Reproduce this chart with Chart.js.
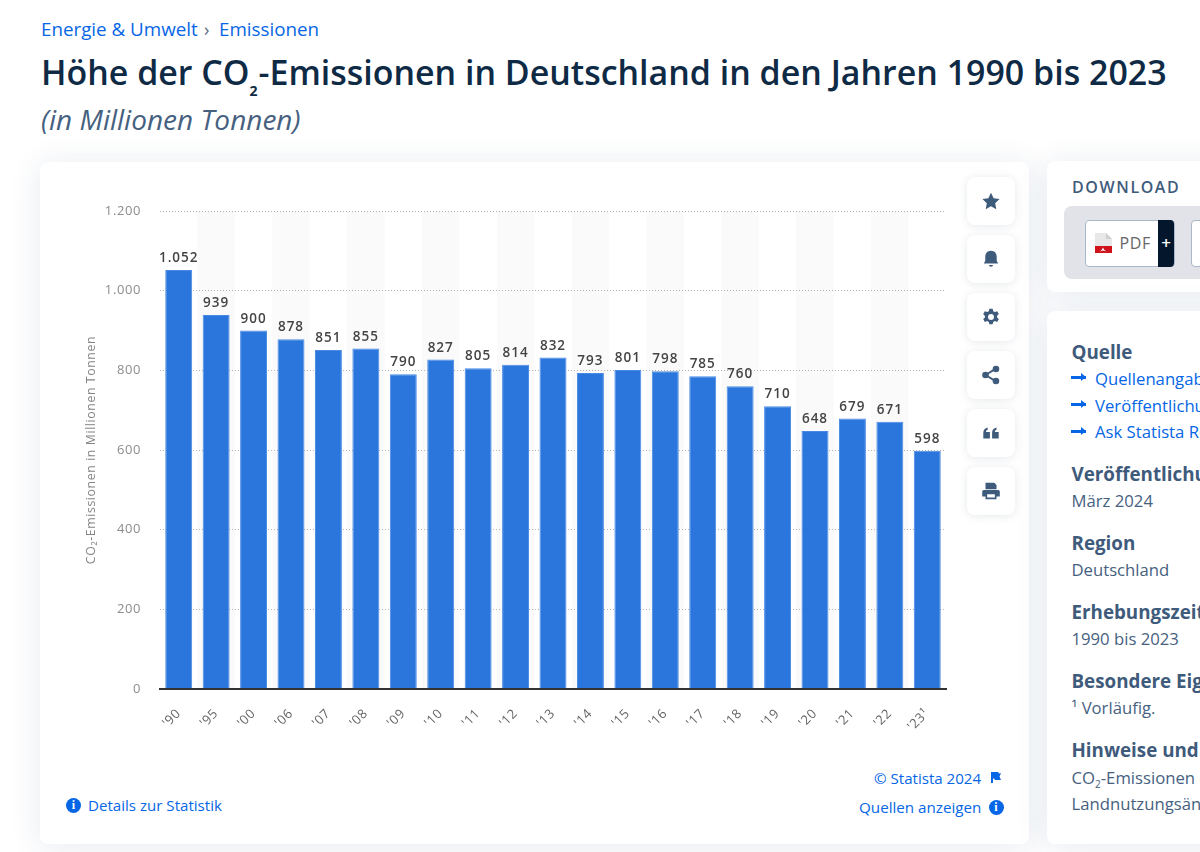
<!DOCTYPE html>
<html lang="de">
<head>
<meta charset="utf-8">
<title>CO2-Emissionen in Deutschland</title>
<script src="https://cdn.jsdelivr.net/npm/chart.js@4"></script>
<style>
html, body { margin: 0; padding: 0; }
body { width: 1200px; height: 852px; position: relative; overflow: hidden; font-family: "Open Sans", sans-serif; background: #fff; }
div, a, span { position: absolute; white-space: nowrap; }
sub { font-size: 60%; line-height: 0; }
sub.big { font-size: 14px; font-weight: 700; vertical-align: -11px; margin: 0 1px 0 0; }
.blue { color: #0666e5; }
.card { background: #fff; border-radius: 8px; box-shadow: 0 3px 32px rgba(30, 60, 110, .11); }
.btn { left: 967px; width: 48px; height: 48px; background: #fff; border-radius: 8px; box-shadow: 0 1px 8px rgba(60, 80, 110, .13); }
.btn svg { position: absolute; left: 13px; top: 13px; width: 22px; height: 22px; fill: #3f5b7c; }
.h { left: 1071.500px; font-size: 18.800px; font-weight: 700; color: #3f5b7c; line-height: 24px; }
.t { left: 1071.500px; font-size: 16.700px; color: #466180; line-height: 22px; }
.l { left: 1095px; font-size: 16.700px; color: #0666e5; line-height: 22px; }
.ar { left: 1071px; width: 15px; height: 3px; background: #0666e5; }
.ar::after { content: ""; position: absolute; right: 0; top: -3px; border-left: 5px solid #0666e5; border-top: 4.500px solid transparent; border-bottom: 4.500px solid transparent; }
.info { width: 15px; height: 15px; border-radius: 50%; background: #0666e5; color: #fff; font: 700 12px/15px "Liberation Serif", serif; text-align: center; }
</style>
</head>
<body>
<div class="blue" style="left:41px;top:17px;font-size:18.800px;line-height:25px">Energie &amp; Umwelt</div>
<div style="left:204px;top:17px;font-size:18px;line-height:25px;color:#5a6f88">›</div>
<div class="blue" style="left:219px;top:17px;font-size:18.800px;line-height:25px">Emissionen</div>
<div style="left:41px;top:50px;font-size:33.950px;font-weight:600;line-height:45px;color:#0f2a45">Höhe der CO<sub class="big">2</sub>-Emissionen in Deutschland in den Jahren 1990 bis 2023</div>
<div style="left:41px;top:102px;font-size:28px;font-style:italic;line-height:35px;color:#466180">(in Millionen Tonnen)</div>

<div class="card" style="left:40px;top:162px;width:989px;height:682px"></div>
<div class="card" style="left:1047px;top:161px;width:200px;height:131px"></div>
<div class="card" style="left:1047px;top:311px;width:200px;height:533px"></div>

<div style="left:40px;top:190px;width:920px;height:570px"><canvas id="chart1"></canvas></div>

<div class="btn" style="top:177px"><svg viewBox="0 0 20 20"><path d="M10 2.500l2.400 5 5.400.7-4 3.800 1 5.400-4.800-2.700-4.800 2.700 1-5.400-4-3.800 5.400-.7z"/></svg></div>
<div class="btn" style="top:235px"><svg viewBox="0 0 20 20"><path d="M10 2.500c3.400 0 5.200 2.600 5.200 5.500v3.500l1.300 2.500h-13l1.300-2.500V8c0-2.900 1.800-5.500 5.200-5.500zM8.200 15.500h3.600c0 1-.8 1.500-1.800 1.500s-1.800-.5-1.800-1.500z"/></svg></div>
<div class="btn" style="top:293px"><svg viewBox="0 0 20 20"><path fill-rule="evenodd" d="M8.500 2.500h3l.5 2.200 1.500.8 2.100-.8 1.500 2.600-1.600 1.500v1.600l1.600 1.500-1.500 2.600-2.100-.8-1.500.8-.5 2.200h-3l-.5-2.200-1.500-.8-2.100.8-1.500-2.600 1.600-1.500V9.200L2.900 7.300l1.500-2.600 2.100.8 1.500-.8zM10 7.300a2.700 2.700 0 1 0 0 5.400 2.700 2.700 0 0 0 0-5.400z"/></svg></div>
<div class="btn" style="top:351px"><svg viewBox="0 0 20 20"><circle cx="5" cy="10" r="3"/><circle cx="14.500" cy="4.500" r="3"/><circle cx="14.500" cy="15.500" r="3"/><path d="M5 9l9-5.500.9 1.500-9 5.500zM5.900 9.500l9 5.500-.9 1.500-9-5.500z"/></svg></div>
<div class="btn" style="top:409px"><svg viewBox="0 0 20 20"><path d="M3 10c0-3 1.500-4.500 4-5v2c-1 .3-1.500 1-1.500 2H9v6H3zM11 10c0-3 1.500-4.500 4-5v2c-1 .3-1.500 1-1.500 2H17v6h-6z"/></svg></div>
<div class="btn" style="top:467px"><svg viewBox="0 0 20 20"><path fill-rule="evenodd" d="M5 2.500h8l2 2v4H5zM3.500 9h13A1.500 1.500 0 0 1 18 10.500V15h-3v2.500H5V15H2v-4.500A1.500 1.500 0 0 1 3.500 9zM6.500 13v3h7v-3z"/></svg></div>

<div style="left:1072px;top:176px;font-size:16px;font-weight:600;letter-spacing:1.600px;line-height:22px;color:#3f5b7c">DOWNLOAD</div>
<div style="left:1064px;top:206px;width:200px;height:73px;background:#e1e3e8;border-radius:8px"></div>
<div style="left:1085px;top:220px;width:88px;height:45px;background:#fff;border:1px solid #a9b8c9;border-radius:4px"></div>
<div style="left:1158px;top:220px;width:16px;height:47px;background:#03162b;border-radius:0 4px 4px 0;color:#fff;font-size:17px;font-weight:600;line-height:45px;text-align:center">+</div>
<svg style="position:absolute;left:1095px;top:233px;width:17px;height:20px" viewBox="0 0 17 20"><path fill="#e8e8e8" d="M0 0h11l6 6v7H0z"/><path fill="#cfcfcf" d="M11 0l6 6h-6z"/><path fill="#d0121b" d="M0 13h17v7H0z"/><path fill="#fff" d="M8 14.500l1 2 2 2-3-1-3 1 2-2z"/></svg>
<div style="left:1119.500px;top:232px;font-size:16px;line-height:22px;letter-spacing:.6px;color:#666">PDF</div>
<div style="left:1191px;top:220px;width:40px;height:45px;background:#fff;border:1px solid #a9b8c9;border-radius:4px"></div>

<div class="h" style="top:340px">Quelle</div>
<div class="ar" style="top:376px"></div><div class="l" style="top:368px">Quellenangabe anzeigen</div>
<div class="ar" style="top:403px"></div><div class="l" style="top:395px">Veröffentlichung anzeigen</div>
<div class="ar" style="top:430px"></div><div class="l" style="top:421px">Ask Statista Research</div>
<div class="h" style="top:462px">Veröffentlichung</div>
<div class="t" style="top:490px">März 2024</div>
<div class="h" style="top:531px">Region</div>
<div class="t" style="top:559px">Deutschland</div>
<div class="h" style="top:600px">Erhebungszeitraum</div>
<div class="t" style="top:628px">1990 bis 2023</div>
<div class="h" style="top:669px">Besondere Eigenschaften</div>
<div class="t" style="top:697px">¹ Vorläufig.</div>
<div class="h" style="top:738px">Hinweise und Anmerkungen</div>
<div class="t" style="top:767px">CO<sub>2</sub>-Emissionen ohne</div>
<div class="t" style="top:793px">Landnutzungsänderungen</div>

<div class="info" style="left:66px;top:798px">i</div>
<div class="blue" style="left:88px;top:794px;font-size:15.100px;line-height:22px">Details zur Statistik</div>
<div class="blue" style="left:874px;top:767px;font-size:15.100px;line-height:22px">© Statista 2024</div>
<svg style="position:absolute;left:990px;top:771px;width:12px;height:13px" viewBox="0 0 12 13"><path fill="#0666e5" d="M1 1h7l1 1.500L11 2l-1.500 3.500L11 9H5L4 7.500H3V12H1z"/></svg>
<div class="blue" style="left:859px;top:796px;font-size:15.200px;line-height:22px">Quellen anzeigen</div>
<div class="info" style="left:988.500px;top:800px">i</div>

<script>
const years = ["'90", "'95", "'00", "'06", "'07", "'08", "'09", "'10", "'11", "'12", "'13", "'14", "'15", "'16", "'17", "'18", "'19", "'20", "'21", "'22", "'23¹"];
const emissions = [1052, 939, 900, 878, 851, 855, 790, 827, 805, 814, 832, 793, 801, 798, 785, 760, 710, 648, 679, 671, 598];
const yAxisTitle = 'CO₂-Emissionen in Millionen Tonnen';

// grey stripes behind every second year, has to run before the grid is drawn
const bandPlugin = {
  id: 'bands',
  beforeDraw(chart) {
    const ctx = chart.ctx, x = chart.scales.x, area = chart.chartArea;
    const slot = area.width / years.length;
    ctx.save();
    ctx.fillStyle = '#fafafa';
    for (let i = 1; i < years.length; i += 2) {
      ctx.fillRect(x.getPixelForValue(i) - slot / 2, area.top, slot, area.bottom - area.top);
    }
    ctx.restore();
    // the axis texts are letterspaced in the original
    ctx.letterSpacing = '0.6px';
  }
};

// value labels above the bars
const valuePlugin = {
  id: 'values',
  afterDatasetsDraw(chart) {
    const ctx = chart.ctx, bars = chart.getDatasetMeta(0).data;
    ctx.save();
    ctx.font = '600 13.500px "Open Sans"';
    ctx.letterSpacing = '1px';
    ctx.fillStyle = '#444';
    ctx.textAlign = 'center';
    ctx.textBaseline = 'bottom';
    for (let i = 0; i < bars.length; i++) {
      ctx.fillText(emissions[i].toLocaleString('de-DE'), bars[i].x, bars[i].y - 5);
    }
    ctx.restore();
  }
};

new Chart(document.getElementById('chart1').getContext('2d'), {
  type: 'bar',
  data: {
    labels: years,
    datasets: [{
      data: emissions,
      backgroundColor: '#2a76dd',
      borderColor: '#4a8ae4',
      borderWidth: 1,
      barPercentage: 0.72,
      categoryPercentage: 1
    }]
  },
  plugins: [bandPlugin, valuePlugin],
  options: {
    responsive: true,
    maintainAspectRatio: false,
    animation: false,
    layout: { padding: { left: 40, right: 14, top: 21, bottom: 0 } },
    plugins: { legend: { display: false }, tooltip: { enabled: false } },
    scales: {
      x: {
        afterFit(scale) { scale.height = 71; },
        grid: { display: false, drawTicks: false },
        border: { color: '#333', width: 2, z: 1 },
        ticks: {
          color: '#666',
          padding: 17,
          minRotation: 45,
          maxRotation: 45,
          autoSkip: false,
          font: { family: 'Open Sans', size: 13 }
        }
      },
      y: {
        min: 0,
        max: 1200,
        afterFit(scale) { scale.width = 80; scale.paddingTop = 0; scale.paddingBottom = 0; },
        title: { display: true, text: yAxisTitle, color: '#858585', padding: 4, font: { family: 'Open Sans', size: 12.300 } },
        grid: { color: '#b4b4b4', drawTicks: false, lineWidth: 1 },
        border: { display: false, dash: [1, 2] },
        ticks: {
          stepSize: 200,
          color: '#8c8c8c',
          padding: 19,
          font: { family: 'Open Sans', size: 13 },
          callback: v => v.toLocaleString('de-DE')
        }
      }
    }
  }
});
</script>
</body>
</html>
